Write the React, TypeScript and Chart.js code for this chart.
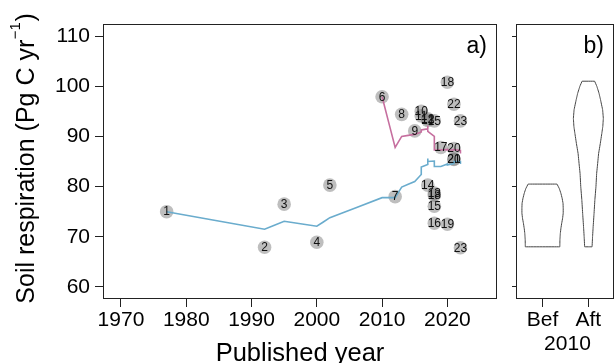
import React, { useEffect, useRef } from "react";
import { Chart, registerables } from "chart.js";
Chart.register(...registerables);

const FONT = "'Liberation Sans', Arial, Helvetica, sans-serif";
const BLUE = "#6aaccd";
const PINK = "#c66f9f";
const AXIS = "#222222";

// ---- panel a) data ----
const xTicks = [1970, 1980, 1990, 2000, 2010, 2020];
const yTicks = [60, 70, 80, 90, 100, 110];

const pointLabels = ["1", "2", "3", "4", "5", "6", "7", "8", "9", "10", "11", "12", "13", "14", "15", "13", "18", "15", "16", "17", "18", "19", "20", "20", "21", "22", "23", "23"];
const pointYears = [1977, 1992, 1995, 2000, 2002, 2010, 2012, 2013, 2015, 2016, 2016, 2017, 2017, 2017, 2018, 2018, 2018, 2018, 2018, 2019, 2020, 2020, 2021, 2021, 2021, 2021, 2022, 2022];
const pointValues = [75.0, 67.9, 76.5, 68.9, 80.3, 97.9, 78.0, 94.4, 91.1, 95.0, 94.1, 93.5, 93.2, 80.3, 93.1, 78.7, 78.3, 76.1, 72.7, 87.8, 100.8, 72.5, 87.6, 85.5, 85.4, 96.4, 93.1, 67.8];

const blueYears = [1977, 1992, 1995, 2000, 2002, 2010, 2012, 2013, 2015, 2016, 2016, 2017, 2017, 2017, 2018, 2018, 2018, 2019, 2020, 2020, 2021, 2021, 2022, 2022];
const blueValues = [75.0, 71.5, 73.1, 72.1, 73.8, 77.8, 77.8, 79.9, 81.0, 82.4, 83.9, 84.4, 85.6, 85.0, 85.1, 84.6, 84.0, 84.0, 84.5, 84.3, 84.6, 85.0, 85.0, 84.5];

const pinkYears = [2010, 2012, 2013, 2015, 2016, 2016, 2017, 2017, 2017, 2018, 2018, 2018, 2019, 2020, 2020, 2021, 2021, 2022, 2022];
const pinkValues = [97.9, 87.8, 90.0, 90.4, 90.9, 91.3, 91.5, 92.1, 91.0, 90.0, 88.6, 87.3, 87.3, 87.4, 87.3, 87.3, 87.4, 87.2, 86.6];

// ---- panel b) data (violins) ----
const violinCategories = ["Bef", "Aft"];
const violinGroupLabel = "2010";
const befLevels = [80.5, 79.6, 78.7, 77.7, 76.7, 75.7, 74.7, 73.7, 72.7, 71.7, 70.7, 69.4, 68.0];
const befHalfWidths = [0.316, 0.366, 0.399, 0.427, 0.447, 0.451, 0.451, 0.438, 0.418, 0.401, 0.388, 0.379, 0.377];
const aftLevels = [101.0, 100.0, 98.6, 97.3, 95.3, 93.6, 92.0, 90.6, 88.6, 86.6, 84.6, 82.6, 80.0, 77.3, 74.6, 72.0, 70.0, 68.0];
const aftHalfWidths = [0.137, 0.185, 0.233, 0.266, 0.312, 0.327, 0.316, 0.294, 0.261, 0.224, 0.203, 0.181, 0.166, 0.142, 0.124, 0.105, 0.092, 0.081];

const Y_MIN = 57.6;
const Y_MAX = 112.4;

function violinOutline(center: number, levels: number[], widths: number[]) {
  const pts: { x: number; y: number }[] = [];
  for (let i = 0; i < levels.length; i++) pts.push({ x: center - widths[i], y: levels[i] });
  for (let i = levels.length - 1; i >= 0; i--) pts.push({ x: center + widths[i], y: levels[i] });
  pts.push({ x: center - widths[0], y: levels[0] });
  return pts;
}

const boxPlugin = {
  id: "boxPlugin",
  afterDraw(chart: any) {
    const { ctx, chartArea } = chart;
    ctx.save();
    ctx.strokeStyle = AXIS;
    ctx.lineWidth = 1;
    const l = Math.round(chartArea.left) + 0.5;
    const t = Math.round(chartArea.top) + 0.5;
    const r = Math.round(chartArea.right) - 0.5;
    const b = Math.round(chartArea.bottom) - 0.5;
    ctx.strokeRect(l, t, r - l, b - t);
    ctx.restore();
  },
};

const pointLabelPlugin = {
  id: "pointLabelPlugin",
  afterDatasetsDraw(chart: any) {
    const meta = chart.getDatasetMeta(2);
    const ctx = chart.ctx;
    ctx.save();
    ctx.font = `12px ${FONT}`;
    ctx.fillStyle = "#111";
    ctx.textAlign = "center";
    ctx.textBaseline = "middle";
    meta.data.forEach((el: any, i: number) => {
      ctx.fillText(pointLabels[i], el.x, el.y + 0.5);
    });
    ctx.restore();
  },
};

const mainTextPlugin = {
  id: "mainTextPlugin",
  afterDraw(chart: any) {
    const { ctx, chartArea } = chart;
    ctx.save();
    ctx.fillStyle = "#000";
    // x title
    ctx.font = `25.5px ${FONT}`;
    ctx.textAlign = "center";
    ctx.textBaseline = "alphabetic";
    ctx.fillText("Published year", (chartArea.left + chartArea.right) / 2, 361);
    // panel tag
    ctx.font = `23px ${FONT}`;
    ctx.textAlign = "right";
    ctx.fillText("a)", chartArea.right - 10, 53);
    // y title with superscript
    const main = "Soil respiration (Pg C yr";
    const sup = "\u22121";
    const close = ")";
    ctx.font = `25px ${FONT}`;
    const w1 = ctx.measureText(main).width;
    const w3 = ctx.measureText(close).width;
    ctx.font = `15px ${FONT}`;
    const w2 = ctx.measureText(sup).width;
    const total = w1 + w2 + w3 + 1;
    ctx.translate(33.5, (chartArea.top + chartArea.bottom) / 2 - 3);
    ctx.rotate(-Math.PI / 2);
    ctx.textAlign = "left";
    const s = -total / 2;
    ctx.font = `25px ${FONT}`;
    ctx.fillText(main, s, 0);
    ctx.font = `15px ${FONT}`;
    ctx.fillText(sup, s + w1 + 0.5, -14);
    ctx.font = `25px ${FONT}`;
    ctx.fillText(close, s + w1 + w2 + 1, 0);
    ctx.restore();
  },
};

const violinTextPlugin = {
  id: "violinTextPlugin",
  afterDraw(chart: any) {
    const { ctx, chartArea } = chart;
    const xs = chart.scales.x;
    ctx.save();
    ctx.fillStyle = "#000";
    ctx.font = `21px ${FONT}`;
    ctx.textAlign = "center";
    ctx.textBaseline = "alphabetic";
    ctx.fillText(violinGroupLabel, xs.getPixelForValue(1.5) + 2, 350);
    ctx.font = `23px ${FONT}`;
    ctx.textAlign = "right";
    ctx.fillText("b)", chartArea.right - 10, 53);
    ctx.restore();
  },
};

export default function App() {
  const mainRef = useRef<HTMLCanvasElement>(null);
  const vioRef = useRef<HTMLCanvasElement>(null);

  useEffect(() => {
    const tickFont = { family: FONT, size: 21 };
    const gridCommon = { display: true, drawOnChartArea: false, drawTicks: true, color: AXIS, lineWidth: 1 };

    const main = new Chart(mainRef.current as HTMLCanvasElement, {
      type: "scatter",
      data: {
        datasets: [
          {
            data: blueYears.map((x, i) => ({ x, y: blueValues[i] })),
            showLine: true,
            borderColor: BLUE,
            borderWidth: 1.6,
            pointRadius: 0,
            tension: 0.0001,
            order: 1,
          },
          {
            data: pinkYears.map((x, i) => ({ x, y: pinkValues[i] })),
            showLine: true,
            borderColor: PINK,
            borderWidth: 1.6,
            pointRadius: 0,
            tension: 0.0001,
            order: 1,
          },
          {
            data: pointYears.map((x, i) => ({ x, y: pointValues[i] })),
            showLine: false,
            pointRadius: 6.8,
            pointBackgroundColor: "rgba(120,120,120,0.48)",
            pointBorderWidth: 0,
            pointBorderColor: "rgba(0,0,0,0)",
            order: 2,
          },
        ],
      } as any,
      options: {
        animation: false,
        responsive: false,
        devicePixelRatio: 1,
        layout: { padding: { top: 24, right: 8, left: 0, bottom: 0 } },
        plugins: { legend: { display: false }, tooltip: { enabled: false } },
        scales: {
          x: {
            type: "linear",
            min: 1967.25,
            max: 2027.6,
            afterBuildTicks: (s: any) => {
              s.ticks = xTicks.map((v) => ({ value: v }));
            },
            afterFit: (s: any) => {
              s.height = 64;
            },
            grid: { ...gridCommon, tickLength: 8 },
            border: { display: false },
            ticks: { font: tickFont, color: "#000", padding: 1, maxRotation: 0, autoSkip: false, callback: (v: any) => String(v) },
          },
          y: {
            type: "linear",
            min: Y_MIN,
            max: Y_MAX,
            afterBuildTicks: (s: any) => {
              s.ticks = yTicks.map((v) => ({ value: v }));
            },
            afterFit: (s: any) => {
              s.width = 103;
            },
            grid: { ...gridCommon, tickLength: 8 },
            border: { display: false },
            ticks: { font: tickFont, color: "#000", padding: 5, autoSkip: false, callback: (v: any) => String(v) },
          },
        },
      } as any,
      plugins: [boxPlugin, pointLabelPlugin, mainTextPlugin],
    });

    const vio = new Chart(vioRef.current as HTMLCanvasElement, {
      type: "scatter",
      data: {
        datasets: [
          {
            data: violinOutline(1, befLevels, befHalfWidths),
            showLine: true,
            borderColor: "#444",
            borderWidth: 1,
            pointRadius: 0,
            tension: 0.0001,
            fill: false,
          },
          {
            data: violinOutline(2, aftLevels, aftHalfWidths),
            showLine: true,
            borderColor: "#444",
            borderWidth: 1,
            pointRadius: 0,
            tension: 0.0001,
            fill: false,
          },
        ],
      } as any,
      options: {
        animation: false,
        responsive: false,
        devicePixelRatio: 1,
        layout: { padding: { top: 24, right: 1, left: 0, bottom: 0 } },
        plugins: { legend: { display: false }, tooltip: { enabled: false } },
        scales: {
          x: {
            type: "linear",
            min: 0.42,
            max: 2.56,
            afterBuildTicks: (s: any) => {
              s.ticks = [{ value: 1 }, { value: 2 }];
            },
            afterFit: (s: any) => {
              s.height = 64;
            },
            grid: { ...gridCommon, tickLength: 8 },
            border: { display: false },
            ticks: {
              font: tickFont,
              color: "#000",
              padding: 1,
              maxRotation: 0,
              autoSkip: false,
              callback: (v: any) => (v === 1 ? violinCategories[0] : v === 2 ? violinCategories[1] : ""),
            },
          },
          y: {
            type: "linear",
            min: Y_MIN,
            max: Y_MAX,
            afterBuildTicks: (s: any) => {
              s.ticks = yTicks.map((v) => ({ value: v }));
            },
            afterFit: (s: any) => {
              s.width = 11;
            },
            grid: { ...gridCommon, tickLength: 4 },
            border: { display: false },
            ticks: { display: false },
          },
        },
      } as any,
      plugins: [boxPlugin, violinTextPlugin],
    });

    return () => {
      main.destroy();
      vio.destroy();
    };
  }, []);

  return (
    <div style={{ position: "absolute", left: 0, top: 0, width: 615, height: 363, background: "#fff", overflow: "hidden" }}>
      <canvas ref={mainRef} width={505} height={363} style={{ position: "absolute", left: 0, top: 0, width: 505, height: 363 }} />
      <canvas ref={vioRef} width={110} height={363} style={{ position: "absolute", left: 505, top: 0, width: 110, height: 363 }} />
    </div>
  );
}
